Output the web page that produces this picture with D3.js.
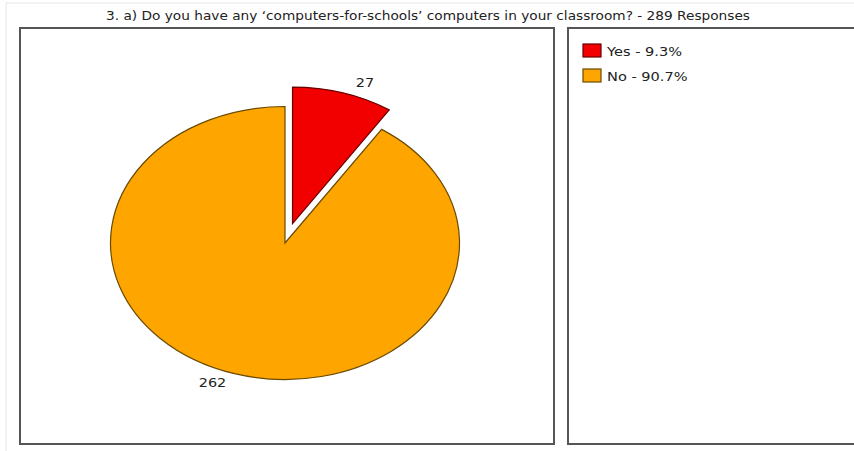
<!DOCTYPE html>
<html>
<head>
<meta charset="utf-8">
<script src="https://cdn.jsdelivr.net/npm/d3@7"></script>
<style>
  body { margin: 0; background: #fff; }
  text { font-family: Tahoma, "DejaVu Sans", sans-serif; fill: #222; }
</style>
</head>
<body>
<div class="chart"></div>
<script>
var svgWidth = 854;
var svgHeight = 451;

// data
var categories = ["Yes", "No"];
var counts = [27, 262];
var colors = ["#f20000", "#ffa500"];
var strokes = ["#6b0000", "#6b4a00"];
var title = "3. a) Do you have any \u2018computers-for-schools\u2019 computers in your classroom? - 289 Responses";

var total = d3.sum(counts);
var slices = categories.map(function (c, i) {
  return { name: c, value: counts[i], color: colors[i], stroke: strokes[i] };
});

// the picture is stretched sideways, text too
var stretch = 1.2;

var svg = d3.select(".chart")
  .append("svg")
  .attr("width", svgWidth)
  .attr("height", svgHeight);

// faint outer frame
svg.append("rect")
  .attr("x", 6).attr("y", 3)
  .attr("width", 860).attr("height", 460)
  .attr("fill", "none")
  .attr("stroke", "#e6e6e6");

// title
svg.append("text")
  .attr("x", 428)
  .attr("y", 20)
  .attr("text-anchor", "middle")
  .attr("font-size", 12)
  .attr("textLength", 644)
  .attr("lengthAdjust", "spacingAndGlyphs")
  .text(title);

// panels
svg.append("rect")
  .attr("x", 20).attr("y", 28)
  .attr("width", 534).attr("height", 416)
  .attr("fill", "#fff")
  .attr("stroke", "#555")
  .attr("stroke-width", 2);

svg.append("rect")
  .attr("x", 568).attr("y", 28)
  .attr("width", 300).attr("height", 416)
  .attr("fill", "#fff")
  .attr("stroke", "#555")
  .attr("stroke-width", 2);

// pie: draw a circle and squash y
var cx = 285, cy = 243;
var radius = 174.5;
var squash = 136.5 / 174.5;
var explode = 26;

var pie = d3.pie()
  .sort(null)
  .value(function (d) { return d.value; });

var arc = d3.arc()
  .innerRadius(0)
  .outerRadius(radius);

var arcs = pie(slices);

var pieGroup = svg.append("g")
  .attr("transform", `translate(${cx}, ${cy}) scale(1, ${squash})`);

pieGroup.selectAll("path")
  .data(arcs)
  .enter()
  .append("path")
  .attr("d", arc)
  .attr("transform", function (d, i) {
    if (i !== 0) return null;
    var mid = (d.startAngle + d.endAngle) / 2;
    return `translate(${Math.sin(mid) * explode}, ${-Math.cos(mid) * explode})`;
  })
  .attr("fill", function (d) { return d.data.color; })
  .attr("stroke", function (d) { return d.data.stroke; })
  .attr("stroke-width", 1.2)
  .attr("vector-effect", "non-scaling-stroke");

// value labels outside the slices
function labelPos(d, i) {
  var mid = (d.startAngle + d.endAngle) / 2;
  var ex = i === 0 ? explode : 0;
  return [
    cx + Math.sin(mid) * (radius + ex + 76),
    cy - Math.cos(mid) * (radius + ex + 13) * squash + 4
  ];
}

svg.selectAll(".val")
  .data(arcs)
  .enter()
  .append("text")
  .attr("class", "val")
  .attr("font-size", 12)
  .attr("text-anchor", "middle")
  .attr("x", function (d, i) { return labelPos(d, i)[0]; })
  .attr("y", function (d, i) { return labelPos(d, i)[1]; })
  .text(function (d) { return d.data.value; })
  .each(function () {
    var w = this.getComputedTextLength();
    d3.select(this).attr("textLength", w * stretch).attr("lengthAdjust", "spacingAndGlyphs");
  });

// legend
var legend = svg.append("g")
  .attr("transform", "translate(583, 44)");

var items = legend.selectAll("g")
  .data(slices)
  .enter()
  .append("g")
  .attr("transform", function (d, i) { return `translate(0, ${i * 25})`; });

items.append("rect")
  .attr("width", 18).attr("height", 13)
  .attr("fill", function (d) { return d.color; })
  .attr("stroke", function (d) { return d.stroke; })
  .attr("stroke-width", 1.2);

items.append("text")
  .attr("x", 24)
  .attr("y", 12)
  .attr("font-size", 13)
  .text(function (d) {
    return d.name + " - " + (d.value / total * 100).toFixed(1) + "%";
  })
  .each(function () {
    var w = this.getComputedTextLength();
    d3.select(this).attr("textLength", w * 1.12).attr("lengthAdjust", "spacingAndGlyphs");
  });
</script>
</body>
</html>
